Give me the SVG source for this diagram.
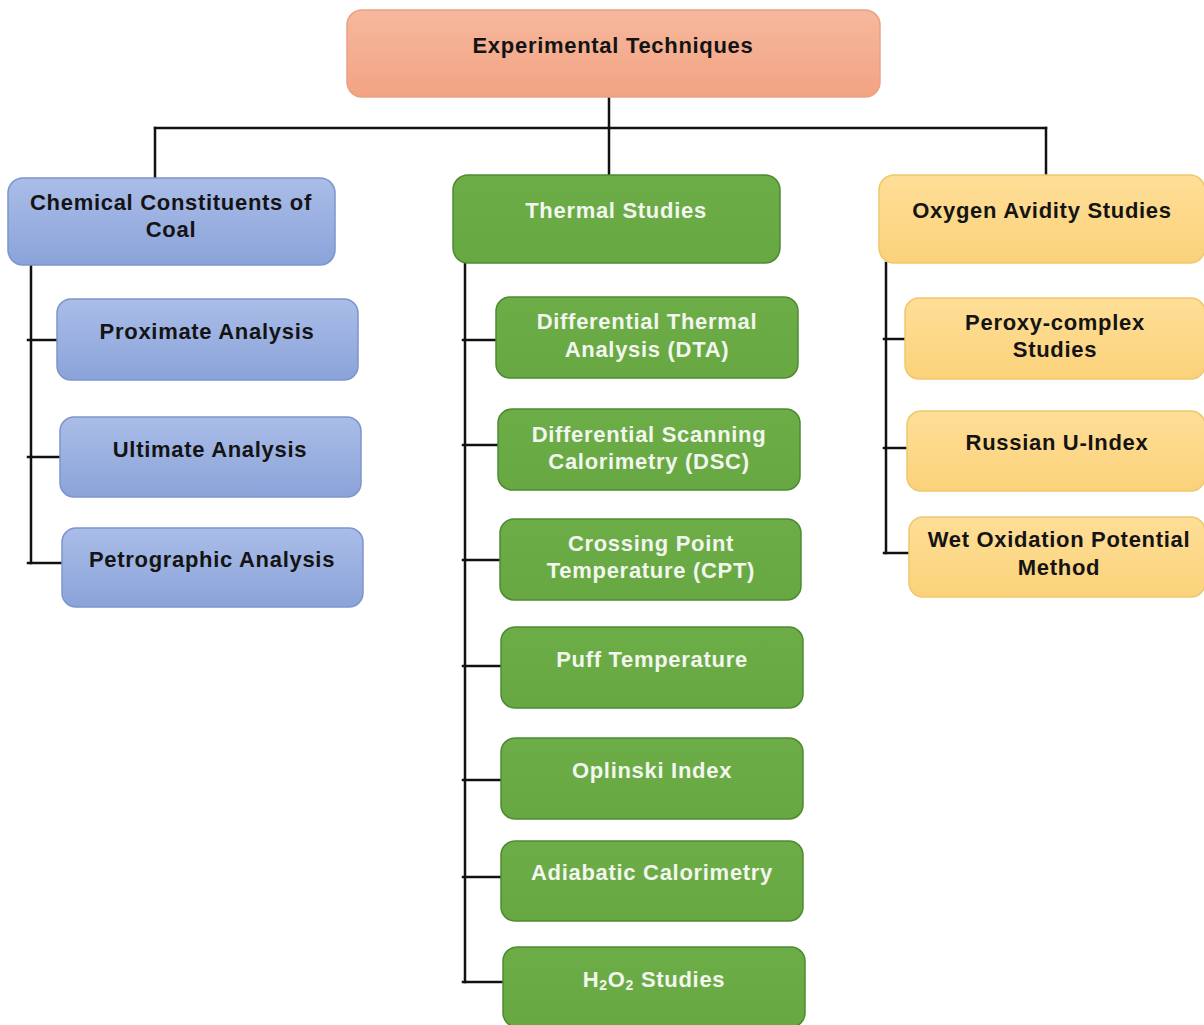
<svg xmlns="http://www.w3.org/2000/svg" width="1204" height="1025" viewBox="0 0 1204 1025">
<defs>
<linearGradient id="gSalmon" x1="0" y1="0" x2="0" y2="1"><stop offset="0" stop-color="#F6B89D"/><stop offset="1" stop-color="#F3A383"/></linearGradient>
<linearGradient id="gBlue" x1="0" y1="0" x2="0" y2="1"><stop offset="0" stop-color="#AABDE8"/><stop offset="1" stop-color="#8AA3D9"/></linearGradient>
<linearGradient id="gGreen" x1="0" y1="0" x2="0" y2="1"><stop offset="0" stop-color="#6DAD48"/><stop offset="1" stop-color="#67A843"/></linearGradient>
<linearGradient id="gYellow" x1="0" y1="0" x2="0" y2="1"><stop offset="0" stop-color="#FEDE97"/><stop offset="1" stop-color="#FBD27A"/></linearGradient>
</defs>
<style>
rect{stroke-width:1.5}
.salmon{fill:url(#gSalmon);stroke:#E9A184}
.blue{fill:url(#gBlue);stroke:#7C95CB}
.green{fill:url(#gGreen);stroke:#4E8A32}
.yellow{fill:url(#gYellow);stroke:#EFC76E}
text{font-family:"Liberation Sans",Arial,sans-serif;font-weight:bold;font-size:22px;letter-spacing:0.7px;text-anchor:middle}
.dk{fill:#141414}
.wt{fill:#F2F6EE}
.conn line{stroke:#111;stroke-width:2.5;stroke-linecap:square}
</style>
<rect width="1204" height="1025" fill="#FFFFFF"/>
<g class="conn" id="connectors">
<line x1="609" y1="97" x2="609" y2="175"/>
<line x1="155" y1="128" x2="1046" y2="128"/>
<line x1="155" y1="128" x2="155" y2="178"/>
<line x1="1046" y1="128" x2="1046" y2="175"/>
<line x1="31" y1="265" x2="31" y2="563"/>
<line x1="28" y1="340" x2="57" y2="340"/>
<line x1="28" y1="457" x2="60" y2="457"/>
<line x1="28" y1="563" x2="62" y2="563"/>
<line x1="465" y1="263" x2="465" y2="982"/>
<line x1="463" y1="340" x2="496" y2="340"/>
<line x1="463" y1="445" x2="498" y2="445"/>
<line x1="463" y1="560" x2="500" y2="560"/>
<line x1="463" y1="666" x2="501" y2="666"/>
<line x1="463" y1="780" x2="501" y2="780"/>
<line x1="463" y1="877" x2="501" y2="877"/>
<line x1="463" y1="982" x2="503" y2="982"/>
<line x1="886" y1="263" x2="886" y2="553"/>
<line x1="884" y1="339" x2="905" y2="339"/>
<line x1="884" y1="448" x2="907" y2="448"/>
<line x1="884" y1="553" x2="909" y2="553"/>
</g>
<g id="n-root"><rect class="salmon" x="347" y="10" width="533" height="87" rx="15"/><text class="dk" x="613" y="53">Experimental Techniques</text></g>
<g id="n-chem"><rect class="blue" x="8" y="178" width="327" height="87" rx="15"/><text class="dk" x="171" y="210">Chemical Constituents of</text><text class="dk" x="171" y="237">Coal</text></g>
<g id="n-thermal"><rect class="green" x="453" y="175" width="327" height="88" rx="15"/><text class="wt" x="616" y="218">Thermal Studies</text></g>
<g id="n-oxy"><rect class="yellow" x="879" y="175" width="326" height="88" rx="15"/><text class="dk" x="1042" y="218">Oxygen Avidity Studies</text></g>
<g id="n-prox"><rect class="blue" x="57" y="299" width="301" height="81" rx="14"/><text class="dk" x="207" y="339">Proximate Analysis</text></g>
<g id="n-ult"><rect class="blue" x="60" y="417" width="301" height="80" rx="14"/><text class="dk" x="210" y="457">Ultimate Analysis</text></g>
<g id="n-petro"><rect class="blue" x="62" y="528" width="301" height="79" rx="14"/><text class="dk" x="212" y="567">Petrographic Analysis</text></g>
<g id="n-dta"><rect class="green" x="496" y="297" width="302" height="81" rx="14"/><text class="wt" x="647" y="329">Differential Thermal</text><text class="wt" x="647" y="357">Analysis (DTA)</text></g>
<g id="n-dsc"><rect class="green" x="498" y="409" width="302" height="81" rx="14"/><text class="wt" x="649" y="442">Differential Scanning</text><text class="wt" x="649" y="469">Calorimetry (DSC)</text></g>
<g id="n-cpt"><rect class="green" x="500" y="519" width="301" height="81" rx="14"/><text class="wt" x="651" y="551">Crossing Point</text><text class="wt" x="651" y="578">Temperature (CPT)</text></g>
<g id="n-puff"><rect class="green" x="501" y="627" width="302" height="81" rx="14"/><text class="wt" x="652" y="667">Puff Temperature</text></g>
<g id="n-oplinski"><rect class="green" x="501" y="738" width="302" height="81" rx="14"/><text class="wt" x="652" y="778">Oplinski Index</text></g>
<g id="n-adiabatic"><rect class="green" x="501" y="841" width="302" height="80" rx="14"/><text class="wt" x="652" y="880">Adiabatic Calorimetry</text></g>
<g id="n-h2o2"><rect class="green" x="503" y="947" width="302" height="80" rx="14"/><text class="wt" x="654" y="987">H<tspan font-size="14" dy="3">2</tspan><tspan dy="-3">O</tspan><tspan font-size="14" dy="3">2</tspan><tspan dy="-3"> Studies</tspan></text></g>
<g id="n-peroxy"><rect class="yellow" x="905" y="298" width="300" height="81" rx="14"/><text class="dk" x="1055" y="330">Peroxy-complex</text><text class="dk" x="1055" y="357">Studies</text></g>
<g id="n-russian"><rect class="yellow" x="907" y="411" width="298" height="80" rx="14"/><text class="dk" x="1057" y="450">Russian U-Index</text></g>
<g id="n-wet"><rect class="yellow" x="909" y="517" width="296" height="80" rx="14"/><text class="dk" x="1059" y="547">Wet Oxidation Potential</text><text class="dk" x="1059" y="575">Method</text></g>
</svg>
